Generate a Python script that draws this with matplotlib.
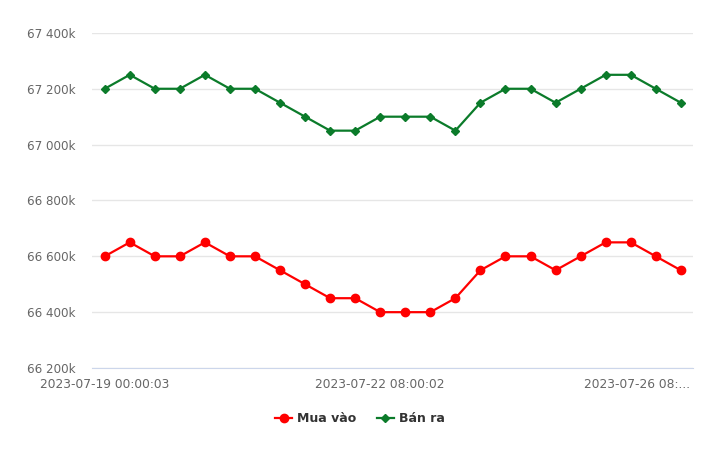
import matplotlib
matplotlib.use("Agg")
from matplotlib import pyplot as plt
from matplotlib.ticker import FuncFormatter
from matplotlib.transforms import ScaledTranslation

# gold price, thousand VND
mua_vao = [66600, 66650, 66600, 66600, 66650, 66600, 66600, 66550, 66500, 66450,
           66450, 66400, 66400, 66400, 66450, 66550, 66600, 66600, 66550, 66600,
           66650, 66650, 66600, 66550]
ban_ra = [67200, 67250, 67200, 67200, 67250, 67200, 67200, 67150, 67100, 67050,
          67050, 67100, 67100, 67100, 67050, 67150, 67200, 67200, 67150, 67200,
          67250, 67250, 67200, 67150]
tick_idx = [0, 11, 22]
tick_labels = ["2023-07-19 00:00:03", "2023-07-22 08:00:02", "2023-07-26 08:..."]
y_ticks = [66200, 66400, 66600, 66800, 67000, 67200, 67400]

fig = plt.figure(figsize=(7.2, 4.51), dpi=100)
ax = fig.add_axes([0.128, 0.184, 0.835, 0.743])

x = range(len(mua_vao))
ax.plot(x, mua_vao, color="#ff0000", lw=1.6, marker="o", ms=6, label="Mua vào", zorder=3)
ax.plot(x, ban_ra, color="#0b7b2a", lw=1.6, marker="D", ms=4.3, label="Bán ra", zorder=3)

ax.set_xlim(-0.5, len(mua_vao) - 0.5)
ax.set_ylim(66200, 67400)
ax.set_yticks(y_ticks)
ax.yaxis.set_major_formatter(FuncFormatter(lambda v, p: "{:,.0f}k".format(v).replace(",", " ")))
ax.grid(axis="y", color="#e6e6e6", lw=1)
ax.set_axisbelow(True)
for s in ["top", "right", "left"]:
    ax.spines[s].set_visible(False)
ax.spines["bottom"].set_color("#ccd6eb")

ax.set_xticks(tick_idx)
ax.set_xticklabels(tick_labels)
ax.tick_params(axis="x", length=0, pad=7, labelsize=8.8, labelcolor="#666666")
ax.tick_params(axis="y", length=0, pad=12, labelsize=8.6, labelcolor="#666666")
# last label is pushed left so it stays inside the plot, like the original
last = ax.get_xticklabels()[-1]
last.set_horizontalalignment("right")
last.set_transform(last.get_transform() + ScaledTranslation(0.34, 0, fig.dpi_scale_trans))

leg = fig.legend(loc="center", bbox_to_anchor=(0.5, 0.071), ncol=2, frameon=False,
                 prop={"size": 9, "weight": "bold"}, handlelength=1.4,
                 handletextpad=0.4, columnspacing=1.6)
for t in leg.get_texts():
    t.set_color("#333333")

plt.savefig("out.png", dpi=100)
